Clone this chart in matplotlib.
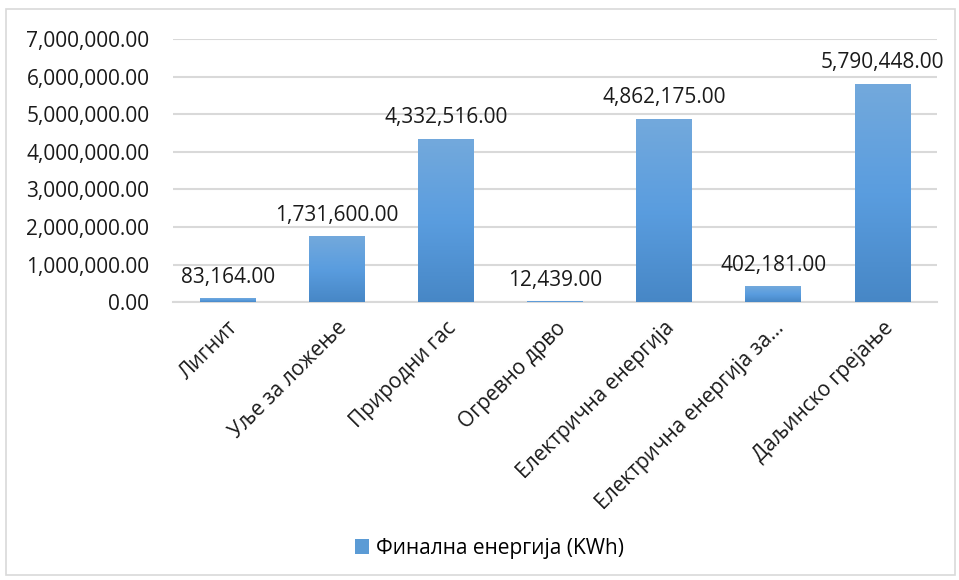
import numpy as np
import matplotlib.pyplot as plt
from matplotlib.colors import LinearSegmentedColormap
from matplotlib.patches import Rectangle
from matplotlib.ticker import FuncFormatter

plt.rcParams['font.family'] = ['Open Sans', 'DejaVu Sans']

categories = ['Лигнит', 'Уље за ложење', 'Природни гас', 'Огревно дрво',
              'Електрична енергија', 'Електрична енергија за…', 'Даљинско грејање']
values = [83164.00, 1731600.00, 4332516.00, 12439.00, 4862175.00, 402181.00, 5790448.00]
series_name = 'Финална енергија (KWh)'

fig = plt.figure(figsize=(9.59, 5.80), dpi=100)
ax = fig.add_axes([0.1804, 0.479, 0.7966, 0.4538])

# light frame round the whole chart
fig.patches.append(Rectangle((6 / 959, 5 / 580), 949 / 959, 566 / 580,
                             transform=fig.transFigure, fill=False,
                             edgecolor='#d9d9d9', linewidth=1.2))

grad = LinearSegmentedColormap.from_list('bar', ['#4787c6', '#5a9ddf', '#73a9dc'])
shade = np.linspace(0, 1, 256).reshape(-1, 1)

x = np.arange(len(categories))
bars = ax.bar(x, values, width=0.51, color='none', edgecolor='none', zorder=3)
for b, v in zip(bars, values):
    x0 = b.get_x()
    ax.imshow(shade, extent=[x0, x0 + b.get_width(), 0, v], origin='lower',
              aspect='auto', cmap=grad, zorder=3, interpolation='bicubic')
    ax.annotate(f'{v:,.2f}', (b.get_x() + b.get_width() / 2, v),
                xytext=(0, 8), textcoords='offset points',
                ha='center', va='bottom', fontsize=15, color='#1a1a1a')

ax.set_xlim(-0.5, len(categories) - 0.5)
ax.set_ylim(0, 7000000)
ax.set_yticks(np.arange(0, 7000001, 1000000))
ax.yaxis.set_major_formatter(FuncFormatter(lambda v, p: f'{v:,.2f}'))
ax.grid(axis='y', color='#d9d9d9', linewidth=1.5, zorder=0)
ax.set_axisbelow(True)
for s in ['top', 'right', 'left']:
    ax.spines[s].set_visible(False)
ax.spines['bottom'].set_color('#d9d9d9')
ax.spines['bottom'].set_linewidth(1.5)
ax.tick_params(axis='both', length=0, labelsize=15, colors='#1a1a1a')
ax.tick_params(axis='y', pad=17)

ax.set_xticks(x)
ax.set_xticklabels(categories, rotation=45, ha='right', va='top',
                   rotation_mode='anchor')
ax.tick_params(axis='x', pad=11)

fig.legend([Rectangle((0, 0), 1, 1, facecolor='#5b9bd5')], [series_name],
           loc='center', bbox_to_anchor=(0.51, 0.055), frameon=False,
           fontsize=15, handlelength=0.7, handleheight=0.7, handletextpad=0.3)

fig.savefig('out.png', dpi=100)
